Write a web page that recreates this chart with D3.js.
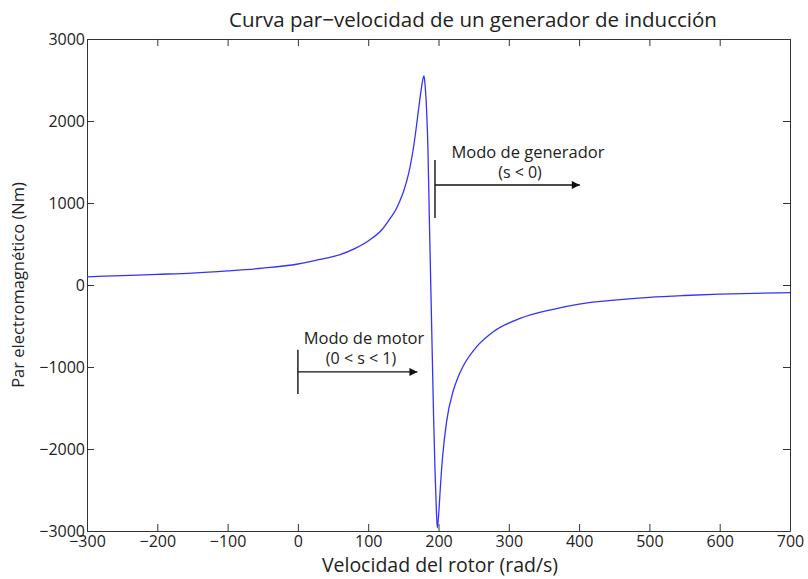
<!DOCTYPE html>
<html>
<head>
<meta charset="utf-8">
<script src="https://cdn.jsdelivr.net/npm/d3@7"></script>
<style>
  body { margin: 0; background: #fff; }
  text { font-family: "Open Sans", "DejaVu Sans", sans-serif; fill: #222; }
</style>
</head>
<body>
<svg></svg>
<script>
// velocidad del rotor (rad/s) y par (Nm)
const speed = [-300, -250, -200, -150, -100, -50, 0, 30, 60, 80, 102, 120, 131, 140, 145, 150, 155, 160, 166.6, 171, 176, 178, 179.4,
  181, 183, 185, 187, 189, 191, 193, 195, 197, 198.3, 199.5, 201, 203, 206, 211.6, 221, 228, 235, 254, 278, 316, 363, 400, 450, 500, 550, 600, 650, 700];
const torque = [100, 115, 130, 146, 172, 205, 256, 310, 370, 440, 549, 680, 810, 930, 1025, 1135, 1275, 1460, 1805, 2100, 2418, 2520, 2549,
  2430, 2150, 1650, 800, 0, -800, -1600, -2250, -2750, -2960, -2880, -2700, -2420, -2080, -1660, -1290, -1120, -990, -755, -570, -408, -296, -232, -185, -150, -128, -112, -101, -94];

const xTicks = [-300, -200, -100, 0, 100, 200, 300, 400, 500, 600, 700];
const yTicks = [-3000, -2000, -1000, 0, 1000, 2000, 3000];

const title = 'Curva par\u2212velocidad de un generador de inducción';
const xLabel = 'Velocidad del rotor (rad/s)';
const yLabel = 'Par electromagnético (Nm)';

// anotaciones: inicio y fin de la flecha, altura de la flecha y de la barra
const motorMark = { x0: 0, x1: 170, y: -1060, top: -790, bottom: -1330, lines: ['Modo de motor', '(0 < s < 1)'] };
const genMark = { x0: 195, x1: 401, y: 1220, top: 1524, bottom: 817, lines: ['Modo de generador', '(s < 0)'] };

const width = 808, height = 579;
const margin = { top: 39, right: 18, bottom: 48, left: 87 };

const svg = d3.select('svg').attr('width', width).attr('height', height);

const x = d3.scaleLinear().domain([-300, 700]).range([margin.left, width - margin.right]);
const y = d3.scaleLinear().domain([-3000, 3000]).range([height - margin.bottom, margin.top]);

const fmt = d => d < 0 ? '\u2212' + Math.abs(d) : String(d);
const axisColor = '#333';
const tickLen = 7;

// ejes con marcas hacia dentro en los cuatro lados
const axisB = svg.append('g')
  .attr('transform', `translate(0,${y(-3000)})`)
  .call(d3.axisBottom(x).tickValues(xTicks).tickFormat(fmt).tickSizeInner(-tickLen).tickSizeOuter(0).tickPadding(5));
const axisT = svg.append('g')
  .attr('transform', `translate(0,${y(3000)})`)
  .call(d3.axisTop(x).tickValues(xTicks).tickFormat('').tickSizeInner(-tickLen).tickSizeOuter(0));
const axisL = svg.append('g')
  .attr('transform', `translate(${x(-300)},0)`)
  .call(d3.axisLeft(y).tickValues(yTicks).tickFormat(fmt).tickSizeInner(-tickLen).tickSizeOuter(0).tickPadding(2));
const axisR = svg.append('g')
  .attr('transform', `translate(${x(700)},0)`)
  .call(d3.axisRight(y).tickValues(yTicks).tickFormat('').tickSizeInner(-tickLen).tickSizeOuter(0));

[axisB, axisT, axisL, axisR].forEach(g => {
  g.select('.domain').attr('stroke', axisColor);
  g.selectAll('.tick line').attr('stroke', axisColor);
  g.selectAll('text').style('font-family', '"Open Sans", sans-serif').style('font-size', '16px').attr('fill', '#222');
});

// curva
const pts = speed.map((s, i) => [s, torque[i]]);
const line = d3.line().x(d => x(d[0])).y(d => y(d[1])).curve(d3.curveMonotoneX);
svg.append('path')
  .datum(pts)
  .attr('fill', 'none')
  .attr('stroke', '#3333ff')
  .attr('stroke-width', 1.3)
  .attr('d', line);

// flechas
svg.append('defs').append('marker')
  .attr('id', 'arrow')
  .attr('viewBox', '0 0 10 10')
  .attr('refX', 10).attr('refY', 5)
  .attr('markerWidth', 11).attr('markerHeight', 8)
  .attr('markerUnits', 'userSpaceOnUse')
  .attr('orient', 'auto')
  .append('path').attr('d', 'M0,0L10,5L0,10Z').attr('fill', '#111');

function annotate(m, t1x, t1y, t2x, t2y) {
  svg.append('line')
    .attr('x1', x(m.x0)).attr('x2', x(m.x0))
    .attr('y1', y(m.top)).attr('y2', y(m.bottom))
    .attr('stroke', '#111').attr('stroke-width', 1.4);
  svg.append('line')
    .attr('x1', x(m.x0)).attr('x2', x(m.x1))
    .attr('y1', y(m.y)).attr('y2', y(m.y))
    .attr('stroke', '#111').attr('stroke-width', 1.4)
    .attr('marker-end', 'url(#arrow)');
  svg.append('text')
    .attr('x', t1x).attr('y', t1y)
    .attr('text-anchor', 'middle')
    .style('font-size', '16.5px')
    .text(m.lines[0]);
  svg.append('text')
    .attr('x', t2x).attr('y', t2y)
    .attr('text-anchor', 'middle')
    .style('font-size', '16px')
    .text(m.lines[1]);
}
annotate(motorMark, 364, 344, 361, 364);
annotate(genMark, 528, 158, 520, 178);

// títulos
svg.append('text')
  .attr('x', 473).attr('y', 27)
  .attr('text-anchor', 'middle')
  .style('font-size', '20.5px')
  .text(title);

svg.append('text')
  .attr('x', 440).attr('y', 572)
  .attr('text-anchor', 'middle')
  .style('font-size', '19.5px')
  .text(xLabel);

svg.append('text')
  .attr('transform', `translate(24,${y(0)}) rotate(-90)`)
  .attr('text-anchor', 'middle')
  .style('font-size', '16.5px')
  .text(yLabel);
</script>
</body>
</html>
